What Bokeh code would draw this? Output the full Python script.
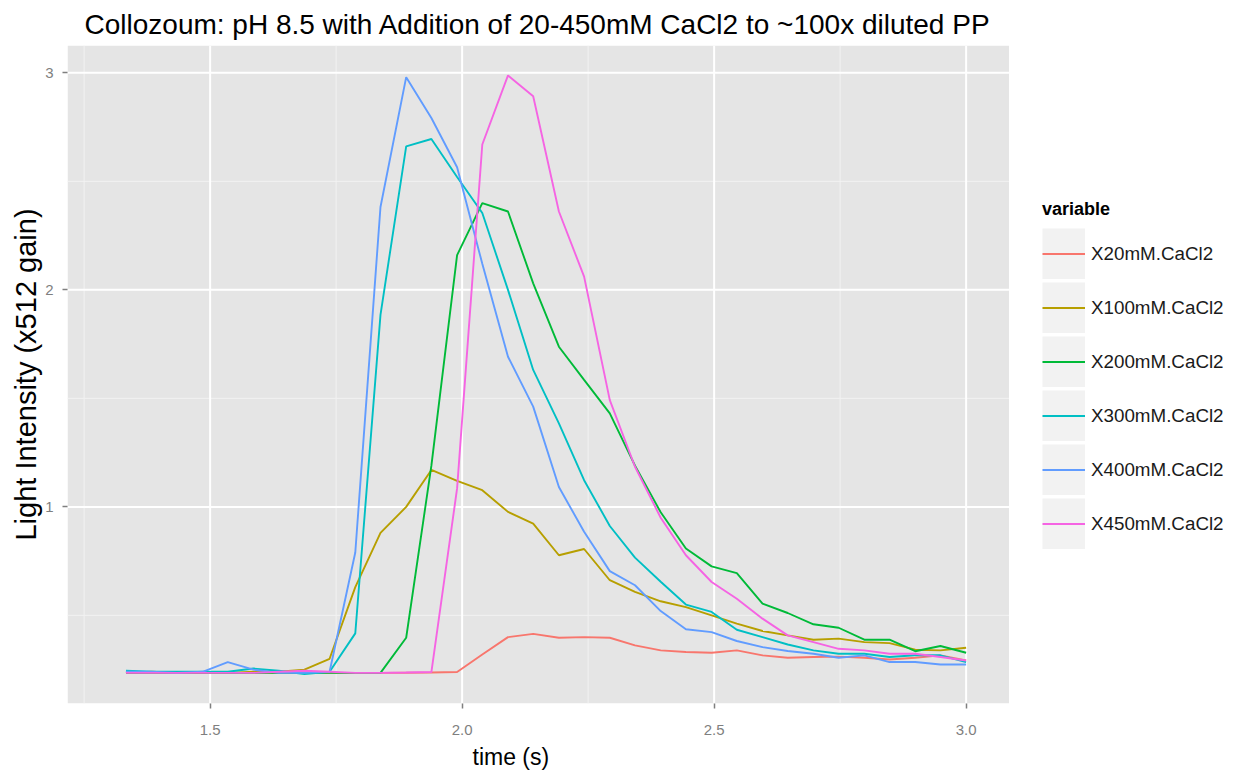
from bokeh.plotting import figure
from bokeh.models import ColumnDataSource, FixedTicker, Legend, LegendItem, Range1d, Title
from bokeh.embed import file_html
from bokeh.resources import INLINE

# ---- data ----
time_s = [1.333, 1.384, 1.434, 1.485, 1.535, 1.586, 1.636, 1.687, 1.737, 1.788,
          1.838, 1.889, 1.939, 1.990, 2.040, 2.091, 2.141, 2.192, 2.242, 2.293,
          2.343, 2.394, 2.444, 2.495, 2.545, 2.596, 2.646, 2.697, 2.747, 2.798,
          2.848, 2.899, 2.949, 3.000]

x20 = [0.235, 0.235, 0.235, 0.235, 0.235, 0.235, 0.235, 0.235, 0.235, 0.235,
       0.235, 0.236, 0.237, 0.239, 0.320, 0.400, 0.415, 0.397, 0.400, 0.397,
       0.362, 0.339, 0.331, 0.328, 0.339, 0.316, 0.305, 0.308, 0.310, 0.305,
       0.297, 0.305, 0.316, 0.292]

x100 = [0.235, 0.240, 0.235, 0.235, 0.235, 0.240, 0.240, 0.250, 0.300, 0.630,
        0.880, 1.000, 1.170, 1.120, 1.077, 0.977, 0.923, 0.777, 0.806, 0.662,
        0.608, 0.565, 0.538, 0.500, 0.462, 0.428, 0.408, 0.388, 0.393, 0.377,
        0.372, 0.342, 0.339, 0.351]

x200 = [0.235, 0.235, 0.235, 0.235, 0.235, 0.235, 0.235, 0.235, 0.235, 0.235,
        0.235, 0.397, 1.190, 2.160, 2.400, 2.361, 2.030, 1.738, 1.585, 1.431,
        1.190, 0.975, 0.808, 0.726, 0.695, 0.554, 0.511, 0.459, 0.443, 0.388,
        0.388, 0.335, 0.359, 0.328]

x300 = [0.245, 0.240, 0.240, 0.240, 0.240, 0.255, 0.245, 0.230, 0.240, 0.417,
        1.885, 2.661, 2.695, 2.520, 2.354, 2.000, 1.631, 1.385, 1.123, 0.912,
        0.766, 0.655, 0.550, 0.516, 0.434, 0.400, 0.366, 0.339, 0.323, 0.323,
        0.308, 0.316, 0.316, 0.285]

x400 = [0.240, 0.240, 0.235, 0.240, 0.285, 0.250, 0.235, 0.235, 0.240, 0.790,
        2.382, 2.980, 2.792, 2.565, 2.120, 1.692, 1.462, 1.092, 0.885, 0.704,
        0.639, 0.520, 0.436, 0.423, 0.382, 0.354, 0.336, 0.323, 0.305, 0.316,
        0.285, 0.285, 0.274, 0.274]

x450 = [0.235, 0.235, 0.235, 0.235, 0.235, 0.235, 0.240, 0.245, 0.240, 0.235,
        0.235, 0.237, 0.239, 1.085, 2.670, 2.988, 2.892, 2.361, 2.061, 1.492,
        1.185, 0.950, 0.777, 0.654, 0.577, 0.485, 0.408, 0.377, 0.346, 0.339,
        0.323, 0.323, 0.308, 0.292]

series_names = ["X20mM.CaCl2", "X100mM.CaCl2", "X200mM.CaCl2",
                "X300mM.CaCl2", "X400mM.CaCl2", "X450mM.CaCl2"]
series_values = [x20, x100, x200, x300, x400, x450]
series_colors = ["#F8766D", "#B79F00", "#00BA38", "#00BFC4", "#619CFF", "#F564E3"]

x_ticks = [1.5, 2.0, 2.5, 3.0]
x_tick_labels = ["1.5", "2.0", "2.5", "3.0"]
x_minor = [1.25, 1.75, 2.25, 2.75]
y_ticks = [1, 2, 3]
y_tick_labels = ["1", "2", "3"]
y_minor = [0.5, 1.5, 2.5]

title_text = "Collozoum: pH 8.5 with Addition of 20-450mM CaCl2 to ~100x diluted PP"
x_label = "time (s)"
y_label = "Light Intensity (x512 gain)"
legend_title = "variable"

FONT = "Liberation Sans"

# ---- layout geometry (pixels) ----
W, H = 1230, 775
B_LEFT, B_RIGHT, B_TOP, B_BOTTOM = 67, 2, 45, 72
FRAME_W = W - B_LEFT - B_RIGHT
PX_PER_X = 504.0                  # horizontal scale of the data panel
PANEL_X0, PANEL_X1 = 1.217, 3.085  # grey data panel extent (time)
PANEL_Y0, PANEL_Y1 = 0.094, 3.126  # grey data panel extent (intensity)
X_END = PANEL_X0 + FRAME_W / PX_PER_X  # frame extends right to hold the legend

p = figure(width=W, height=H, output_backend="svg", toolbar_location=None,
           x_range=Range1d(PANEL_X0, X_END), y_range=Range1d(PANEL_Y0, PANEL_Y1),
           min_border_left=B_LEFT, min_border_right=B_RIGHT, min_border_top=B_TOP,
           min_border_bottom=B_BOTTOM, title=title_text)

p.background_fill_color = "white"
p.border_fill_color = "white"
p.outline_line_color = None
p.xgrid.visible = False
p.ygrid.visible = False

p.title.align = "left"
p.title.offset = 17
p.title.text_font = FONT
p.title.text_font_size = "28px"
p.title.text_font_style = "normal"
p.title.text_color = "black"
p.title.standoff = 11

# grey data panel and its grid
p.quad(left=[PANEL_X0], right=[PANEL_X1], bottom=[PANEL_Y0], top=[PANEL_Y1],
       fill_color="#E5E5E5", line_color=None)
p.segment(x0=x_minor, x1=x_minor, y0=[PANEL_Y0] * len(x_minor),
          y1=[PANEL_Y1] * len(x_minor), line_color="#F2F2F2", line_width=1)
p.segment(x0=[PANEL_X0] * len(y_minor), x1=[PANEL_X1] * len(y_minor),
          y0=y_minor, y1=y_minor, line_color="#F2F2F2", line_width=1)
p.segment(x0=x_ticks, x1=x_ticks, y0=[PANEL_Y0] * len(x_ticks),
          y1=[PANEL_Y1] * len(x_ticks), line_color="white", line_width=2)
p.segment(x0=[PANEL_X0] * len(y_ticks), x1=[PANEL_X1] * len(y_ticks),
          y0=y_ticks, y1=y_ticks, line_color="white", line_width=2)

p.xaxis.ticker = FixedTicker(ticks=x_ticks, minor_ticks=[])
p.yaxis.ticker = FixedTicker(ticks=y_ticks, minor_ticks=[])
p.xaxis.major_label_overrides = dict(zip(x_ticks, x_tick_labels))
p.yaxis.major_label_overrides = dict(zip(y_ticks, y_tick_labels))

for ax in (p.xaxis[0], p.yaxis[0]):
    ax.axis_line_color = None
    ax.major_tick_line_color = "#7F7F7F"
    ax.major_tick_line_width = 1.5
    ax.major_tick_out = 5
    ax.major_tick_in = 0
    ax.minor_tick_line_color = None
    ax.major_label_text_color = "#7F7F7F"
    ax.major_label_text_font = FONT
    ax.major_label_text_font_size = "15px"
    ax.axis_label_text_color = "black"
    ax.axis_label_text_font_style = "normal"
    ax.axis_label_text_font = FONT

p.xaxis.major_label_standoff = 16

p.yaxis.axis_label = y_label
p.yaxis.axis_label_text_font_size = "29px"
p.yaxis.major_label_standoff = 9
p.yaxis.axis_label_standoff = 0

# x-axis title centred under the grey panel (not under the wider frame)
xlab = Title(text=x_label, align="left", offset=405, standoff=8,
             text_font=FONT, text_font_size="23px", text_font_style="normal",
             text_color="black")
p.add_layout(xlab, "below")

# grey key background for the legend (single vertex: draws nothing in the plot)
key_src = ColumnDataSource(dict(x=[time_s[0]], y=[x20[0]]))
key_r = p.line("x", "y", source=key_src, line_color="#F2F2F2", line_width=51,
               line_cap="butt")

items = []
for name, vals, col in zip(series_names, series_values, series_colors):
    src = ColumnDataSource(dict(t=time_s, v=vals))
    r = p.line("t", "v", source=src, line_color=col, line_width=1.9)
    items.append(LegendItem(label=name, renderers=[key_r, r]))

legend = Legend(items=items, title=legend_title, location=(975, 154),
                margin=0, padding=0, spacing=3,
                glyph_width=43, glyph_height=51, label_height=51,
                label_standoff=6, label_text_font=FONT,
                label_text_font_size="18.8px", label_text_color="#1A1A1A",
                title_text_font=FONT, title_text_font_style="bold",
                title_text_font_size="18px", title_text_color="black",
                title_standoff=8, background_fill_alpha=0,
                border_line_color=None)
p.add_layout(legend, "center")

open("out.html", "w").write(file_html(p, INLINE))
